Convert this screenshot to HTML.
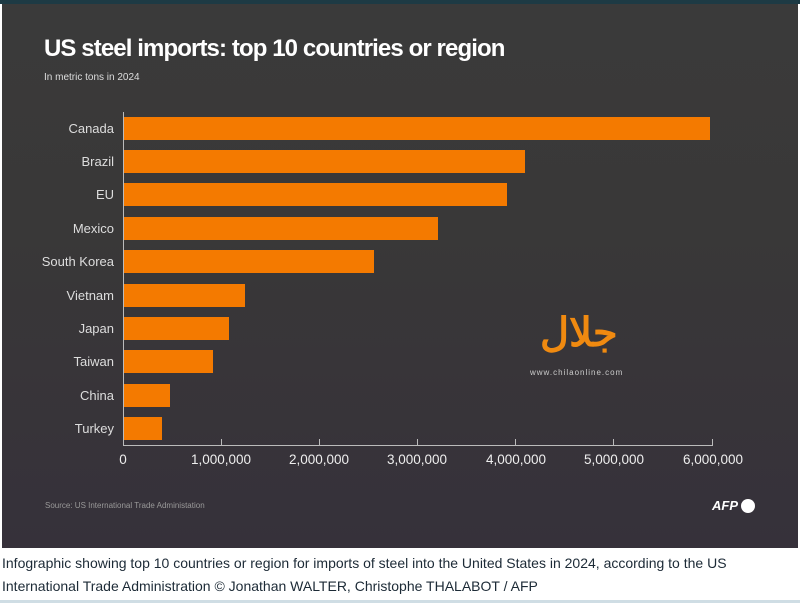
<!DOCTYPE html>
<html><head><meta charset="utf-8"><style>
body{margin:0;width:800px;height:603px;background:#fff;position:relative;overflow:hidden;font-family:"Liberation Sans",sans-serif}
#p{position:absolute;left:2px;top:4px;width:796px;height:544px;background:linear-gradient(#3a3a3a,#393838 40%,#36313a)}
.t{position:absolute;color:#fff}
.l{position:absolute;right:686px;color:#ddd;font-size:13px;font-family:"Liberation Sans Narrow","Liberation Sans",sans-serif;text-align:right}
.b{position:absolute;left:123px;height:23px;background:#f47a00}
.x{position:absolute;top:452px;color:#eee;font-size:13.5px;transform:translateX(-50%);font-family:"Liberation Sans Narrow","Liberation Sans",sans-serif}
.k{position:absolute;top:439px;width:1px;height:6px;background:#bbb}
</style></head><body>
<div style="position:absolute;left:0;top:0;width:800px;height:4px;background:#1d3a44"></div>
<div id="p"></div>
<div class="t" style="left:44px;top:35px;font-size:24px;font-weight:bold;letter-spacing:-0.9px">US steel imports: top 10 countries or region</div>
<div class="t" style="left:44px;top:72px;font-size:10px;color:#ddd">In metric tons in 2024</div>
<div class="l" style="top:121px">Canada</div>
<div class="l" style="top:154px">Brazil</div>
<div class="l" style="top:187px">EU</div>
<div class="l" style="top:221px">Mexico</div>
<div class="l" style="top:254px">South Korea</div>
<div class="l" style="top:288px">Vietnam</div>
<div class="l" style="top:321px">Japan</div>
<div class="l" style="top:354px">Taiwan</div>
<div class="l" style="top:388px">China</div>
<div class="l" style="top:421px">Turkey</div>
<div class="b" style="top:117px;width:587px"></div>
<div class="b" style="top:150px;width:402px"></div>
<div class="b" style="top:183px;width:384px"></div>
<div class="b" style="top:217px;width:315px"></div>
<div class="b" style="top:250px;width:251px"></div>
<div class="b" style="top:284px;width:122px"></div>
<div class="b" style="top:317px;width:106px"></div>
<div class="b" style="top:350px;width:90px"></div>
<div class="b" style="top:384px;width:47px"></div>
<div class="b" style="top:417px;width:39px"></div>
<div style="position:absolute;left:123px;top:112px;width:1px;height:333px;background:#bbb"></div>
<div style="position:absolute;left:123px;top:445px;width:590px;height:1px;background:#bbb"></div>
<div class="k" style="left:123px"></div><div class="k" style="left:221px"></div><div class="k" style="left:319px"></div><div class="k" style="left:417px"></div><div class="k" style="left:515px"></div><div class="k" style="left:613px"></div><div class="k" style="left:712px"></div>
<div class="x" style="left:123px">0</div><div class="x" style="left:221px">1,000,000</div><div class="x" style="left:319px">2,000,000</div><div class="x" style="left:417px">3,000,000</div><div class="x" style="left:516px">4,000,000</div><div class="x" style="left:614px">5,000,000</div><div class="x" style="left:713px">6,000,000</div>
<div class="t" style="left:540px;top:310px;font-size:40px;font-weight:bold;color:#f08a10">جلال</div>
<div class="t" style="left:530px;top:368px;font-size:8px;color:#ccc;letter-spacing:1px">www.chilaonline.com</div>
<div class="t" style="left:45px;top:501px;font-size:8px;color:#999">Source: US International Trade Administation</div>
<div class="t" style="left:712px;top:498px;font-size:13px;font-weight:bold;font-style:italic">AFP</div>
<div style="position:absolute;left:741px;top:499px;width:14px;height:14px;border-radius:50%;background:#fff"></div>
<div style="position:absolute;left:2px;top:552px;font-size:14px;color:#1c2a36;line-height:23px;font-family:'Liberation Sans Narrow','Liberation Sans',sans-serif">Infographic showing top 10 countries or region for imports of steel into the United States in 2024, according to the US<br>International Trade Administration © Jonathan WALTER, Christophe THALABOT / AFP</div>
<div style="position:absolute;left:0;top:600px;width:800px;height:3px;background:#cfdde4"></div>
</body></html>
